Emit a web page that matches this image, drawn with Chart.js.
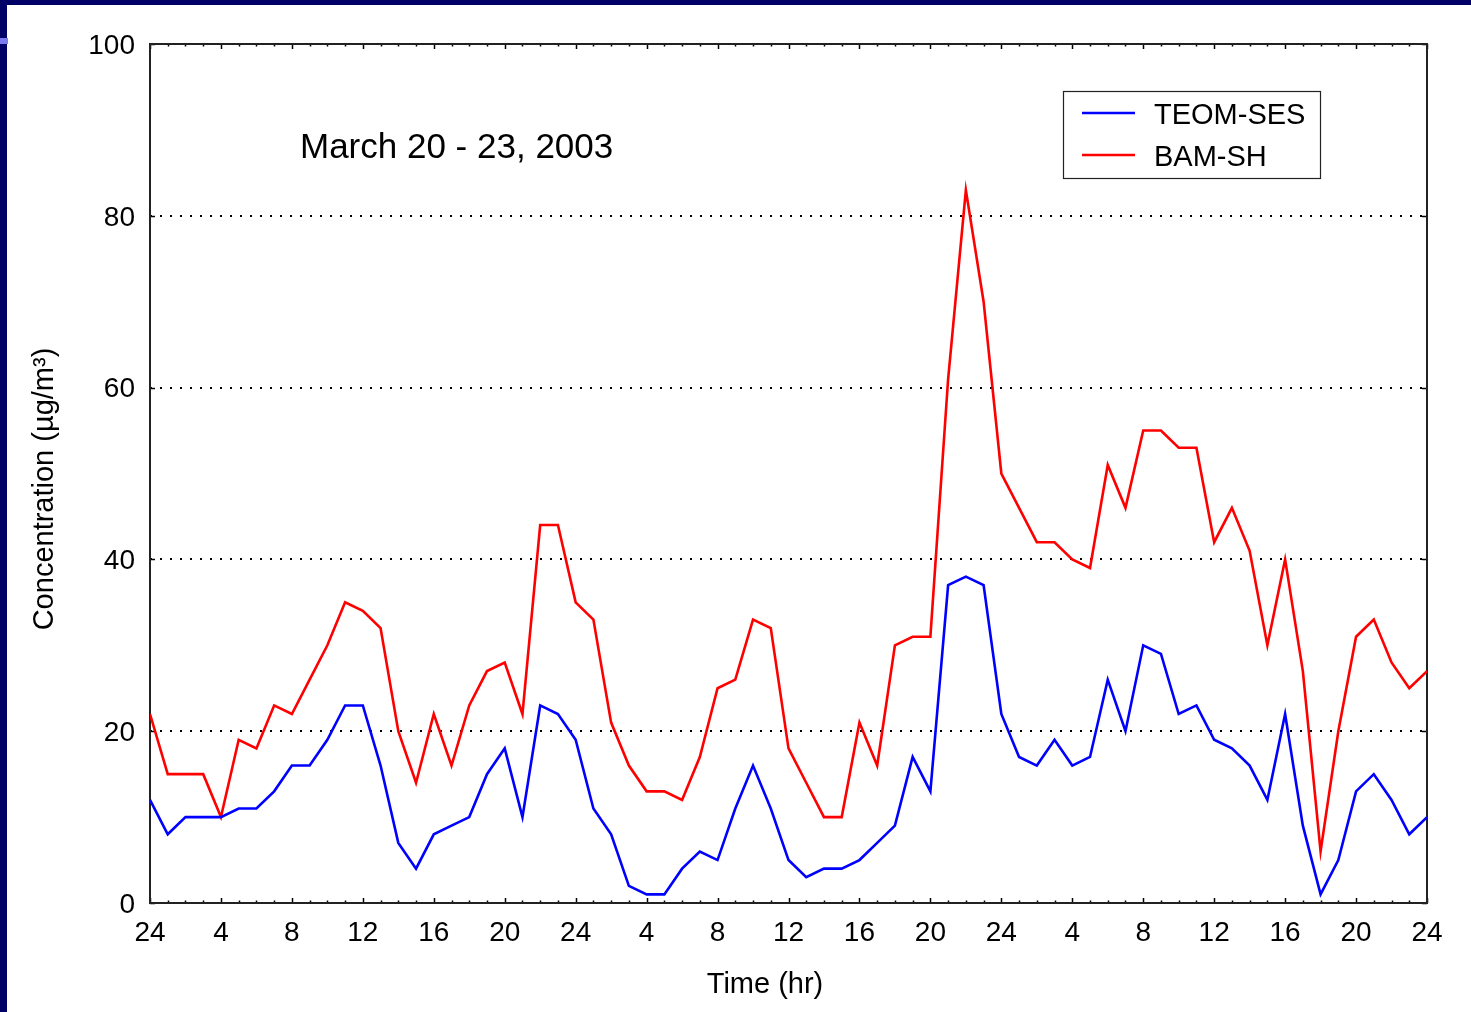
<!DOCTYPE html>
<html>
<head>
<meta charset="utf-8">
<script src="https://cdn.jsdelivr.net/npm/chart.js@4/dist/chart.umd.min.js"></script>
<style>
  html, body { margin: 0; padding: 0; background: #ffffff; overflow: hidden; }
  #wrap { position: relative; width: 1471px; height: 1012px; background: #ffffff; }
  #c { position: absolute; left: 0; top: 0; }
  .navy { position: absolute; background: #000066; }
  .lite { position: absolute; background: #7b7bf0; }
</style>
</head>
<body>
<div id="wrap">
  <canvas id="c" width="1471" height="1012"></canvas>
  <div class="navy" style="left:0;top:0;width:1471px;height:5px;"></div>
  <div class="navy" style="left:0;top:0;width:7px;height:1012px;"></div>
  <div class="lite" style="left:0;top:38px;width:8px;height:6px;"></div>
</div>
<script>
// ---- data ----
const hours = [0,1,2,3,4,5,6,7,8,9,10,11,12,13,14,15,16,17,18,19,20,21,22,23,24,
  25,26,27,28,29,30,31,32,33,34,35,36,37,38,39,40,41,42,43,44,45,46,47,48,
  49,50,51,52,53,54,55,56,57,58,59,60,61,62,63,64,65,66,67,68,69,70,71,72];
const tickLabels = ['24','4','8','12','16','20','24','4','8','12','16','20','24','4','8','12','16','20','24'];
const teomSes = [12,8,10,10,10,11,11,13,16,16,19,23,23,16,7,4,8,9,10,
  15,18,10,23,22,19,11,8,2,1,1,4,6,5,11,16,11,5,
  3,4,4,5,7,9,17,13,37,38,37,22,17,16,19,16,17,
  26,20,30,29,22,23,19,18,16,12,22,9,1,5,13,15,12,8,10];
const bamSh = [22,15,15,15,10,19,18,23,22,26,30,35,34,32,20,14,22,16,23,
  27,28,22,44,44,35,33,21,16,13,13,12,17,25,26,33,32,18,
  14,10,10,21,16,30,31,31,61,83,70,50,46,42,42,40,39,
  51,46,55,55,53,53,42,46,41,30,40,27,6,20,31,33,28,25,27];
const seriesNames = ['TEOM-SES', 'BAM-SH'];
const chartTitle = 'March 20 - 23, 2003';
const xTitle = 'Time (hr)';
const yTitle = 'Concentration (\u00b5g/m\u00b3)';

const FONT = "'Liberation Sans', Arial, Helvetica, sans-serif";

const decor = {
  id: 'decor',
  beforeDatasetsDraw(chart) {
    const {ctx, chartArea: a, scales: {x, y}} = chart;
    ctx.save();
    ctx.strokeStyle = '#000';
    ctx.lineWidth = 1.5;
    for (const h of hours) {
      const px = Math.round(x.getPixelForValue(h)) + 0.5;
      const len = (h % 4 === 0) ? 5 : 2.5;
      ctx.beginPath();
      ctx.moveTo(px, a.bottom); ctx.lineTo(px, a.bottom - len);
      ctx.moveTo(px, a.top); ctx.lineTo(px, a.top + len);
      ctx.stroke();
    }
    for (let v = 0; v <= 100; v += 20) {
      const py = Math.round(y.getPixelForValue(v)) + 0.5;
      ctx.beginPath();
      ctx.moveTo(a.left, py); ctx.lineTo(a.left + 5, py);
      ctx.moveTo(a.right, py); ctx.lineTo(a.right - 5, py);
      ctx.stroke();
    }
    ctx.strokeStyle = '#222';
    ctx.lineWidth = 2;
    ctx.strokeRect(a.left, a.top, a.right - a.left, a.bottom - a.top);
    ctx.restore();
  },
  afterDraw(chart) {
    const {ctx} = chart;
    const ds = chart.data.datasets;
    ctx.save();
    ctx.fillStyle = '#000';
    ctx.font = '35px ' + FONT;
    ctx.textBaseline = 'middle';
    ctx.textAlign = 'left';
    ctx.fillText(chartTitle, 300, 148);
    ctx.font = '29px ' + FONT;
    ctx.textAlign = 'center';
    ctx.fillText(xTitle, 765, 985);
    ctx.save();
    ctx.translate(45, 489);
    ctx.rotate(-Math.PI / 2);
    ctx.fillText(yTitle, 0, 0);
    ctx.restore();
    ctx.fillStyle = '#fff';
    ctx.fillRect(1063, 91, 258, 88);
    ctx.strokeStyle = '#222';
    ctx.lineWidth = 1.2;
    ctx.strokeRect(1063.5, 91.5, 257, 87);
    const rows = [113, 155];
    ds.forEach((d, i) => {
      ctx.strokeStyle = d.borderColor;
      ctx.lineWidth = 2.5;
      ctx.beginPath();
      ctx.moveTo(1082, rows[i]); ctx.lineTo(1135, rows[i]);
      ctx.stroke();
      ctx.fillStyle = '#000';
      ctx.font = '29px ' + FONT;
      ctx.textAlign = 'left';
      ctx.textBaseline = 'middle';
      ctx.fillText(d.label, 1154, rows[i] + 3);
    });
    ctx.restore();
  }
};

new Chart(document.getElementById('c'), {
  type: 'line',
  data: {
    datasets: [
      { label: seriesNames[0], data: hours.map((h, i) => ({x: h, y: teomSes[i]})),
        borderColor: '#0000ff', borderWidth: 2.6, pointRadius: 0, tension: 0, fill: false },
      { label: seriesNames[1], data: hours.map((h, i) => ({x: h, y: bamSh[i]})),
        borderColor: '#ff0000', borderWidth: 2.6, pointRadius: 0, tension: 0, fill: false }
    ]
  },
  options: {
    responsive: false,
    animation: false,
    devicePixelRatio: 1,
    layout: { padding: { left: 0, top: 44, right: 44, bottom: 0 } },
    plugins: { legend: { display: false }, title: { display: false }, tooltip: { enabled: false } },
    scales: {
      x: {
        type: 'linear', min: 0, max: 72,
        afterFit(s) { s.height = 109; },
        grid: { display: false, drawTicks: false },
        border: { display: false },
        ticks: {
          stepSize: 4, autoSkip: false, maxRotation: 0, padding: 13,
          color: '#000', font: { family: FONT, size: 28 },
          callback: (v, i) => tickLabels[i]
        }
      },
      y: {
        min: 0, max: 100,
        afterFit(s) { s.width = 150; },
        grid: {
          drawTicks: false, lineWidth: 2,
          color: (c) => (c.tick && (c.tick.value === 0 || c.tick.value === 100)) ? 'rgba(0,0,0,0)' : '#000'
        },
        border: { display: false, dash: [2, 8] },
        ticks: {
          stepSize: 20, padding: 15, labelOffset: 2,
          color: '#000', font: { family: FONT, size: 28 }
        }
      }
    }
  },
  plugins: [decor]
});
</script>
</body>
</html>
